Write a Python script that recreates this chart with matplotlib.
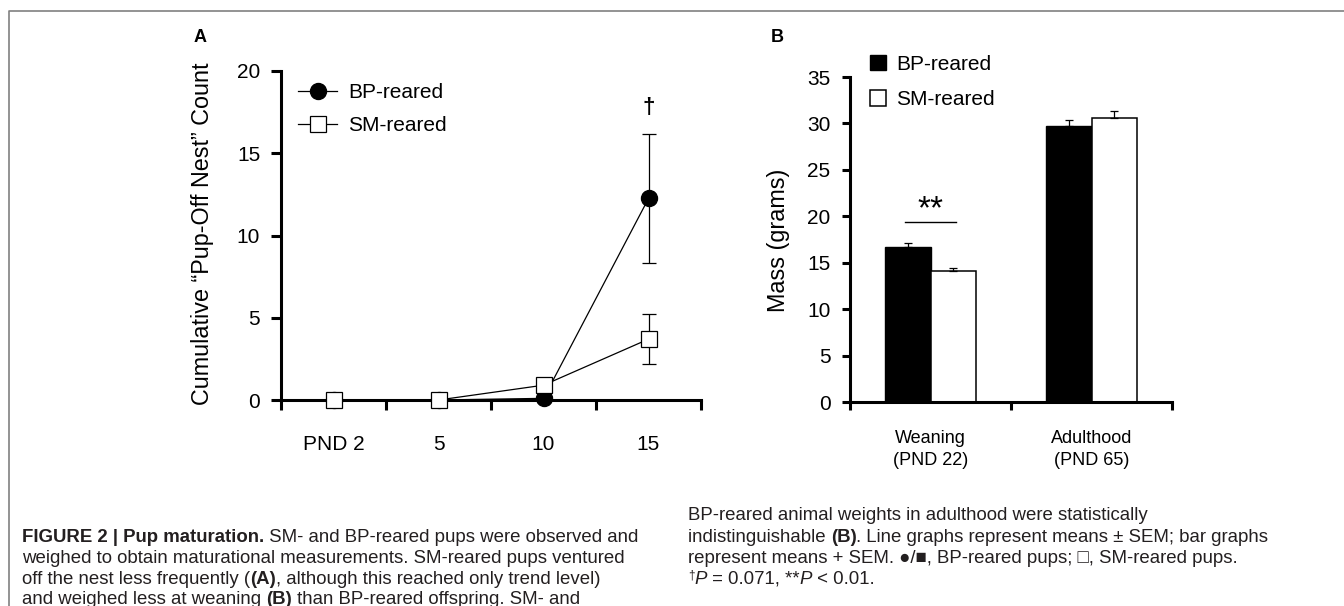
import numpy as np
import matplotlib
matplotlib.use("Agg")
import matplotlib.pyplot as plt
from matplotlib.lines import Line2D

plt.rcParams["font.family"] = ["Liberation Sans", "DejaVu Sans"]

# ── Data ──────────────────────────────────────────────────────────────────────
days     = ["PND 2", "5", "10", "15"]
bp_mean  = [0.0, 0.0, 0.1, 12.25]
bp_sem   = [0.0, 0.0, 0.1, 3.9]
sm_mean  = [0.0, 0.0, 0.9, 3.7]
sm_sem   = [0.0, 0.0, 0.3, 1.5]

ages     = ["Weaning\n(PND 22)", "Adulthood\n(PND 65)"]
mass_bp  = [16.7, 29.7]
sem_bp   = [0.4, 0.7]
mass_sm  = [14.1, 30.6]
sem_sm   = [0.35, 0.7]

W, H = 1344, 606
SPINE = 2.2
fig = plt.figure(figsize=(W / 100, H / 100), dpi=100)
fig.patch.set_facecolor("white")


def style_axes(ax):
    for s in ("top", "right"):
        ax.spines[s].set_visible(False)
    for s in ("left", "bottom"):
        ax.spines[s].set_linewidth(SPINE)
    ax.tick_params(axis="y", direction="out", length=7, width=SPINE, labelsize=15, pad=8)


# ── Panel A: line graph ──────────────────────────────────────────────────────
axA = fig.add_axes([281 / W, 1 - 400 / H, 420 / W, 329 / H])
x = np.arange(len(days))
axA.errorbar(x, bp_mean, yerr=bp_sem, fmt="none", ecolor="black",
             elinewidth=0.9, capsize=4.7, capthick=0.9, zorder=3, clip_on=False)
axA.errorbar(x, sm_mean, yerr=sm_sem, fmt="none", ecolor="black",
             elinewidth=0.9, capsize=4.7, capthick=0.9, zorder=3, clip_on=False)
axA.plot(x, bp_mean, "-o", color="black", mfc="black", ms=11.5, lw=0.9,
         label="BP-reared", clip_on=False, zorder=4)
axA.plot(x, sm_mean, "-s", color="black", mfc="white", mec="black", ms=12,
         mew=0.9, lw=0.9, label="SM-reared", clip_on=False, zorder=5)
axA.set_xlim(-0.5, len(days) - 0.5)
axA.set_ylim(0, 20)
axA.set_yticks([0, 5, 10, 15, 20])
axA.set_xticks(np.arange(len(days) + 1) - 0.5)
axA.set_xticklabels([])
axA.set_xticks(x, minor=True)
axA.set_xticklabels(days, minor=True)
style_axes(axA)
axA.tick_params(axis="x", which="major", direction="out", length=7, width=SPINE)
axA.tick_params(axis="x", which="minor", length=0, labelsize=15, pad=25)
axA.text(x[-1], 17.8, "†", ha="center", va="center", fontsize=16, fontweight="bold")
axA.legend(loc="upper left", bbox_to_anchor=(0.04, 0.963), frameon=False,
           fontsize=15, handlelength=1.9, handletextpad=0.5, labelspacing=0.68,
           borderpad=0, borderaxespad=0)
fig.text(203 / W, 1 - 234 / H, "Cumulative \u201cPup-Off Nest\u201d Count",
         rotation=90, ha="center", va="center", fontsize=16.8)
fig.text(200 / W, 1 - 37 / H, "A", fontsize=13, fontweight="bold", ha="center", va="center")

# ── Panel B: bar graph ───────────────────────────────────────────────────────
axB = fig.add_axes([850 / W, 1 - 402 / H, 322 / W, 325 / H])
xb = np.arange(len(ages))
w = 0.285
ekw = dict(elinewidth=0.9, capthick=0.9)
axB.bar(xb - w / 2, mass_bp, w, color="black", edgecolor="black", lw=1,
        yerr=[[0] * len(xb), sem_bp], capsize=3.2, error_kw=ekw, label="BP-reared")
axB.bar(xb + w / 2, mass_sm, w, color="white", edgecolor="black", lw=1.1,
        yerr=[[0] * len(xb), sem_sm], capsize=3.2, error_kw=ekw, label="SM-reared")
axB.set_xlim(-0.5, len(ages) - 0.5)
axB.set_ylim(0, 35)
axB.set_yticks(np.arange(0, 36, 5))
axB.set_xticks(np.arange(len(ages) + 1) - 0.5)
axB.set_xticklabels([])
axB.set_xticks(xb, minor=True)
axB.set_xticklabels(ages, minor=True)
style_axes(axB)
axB.tick_params(axis="y", length=6)
axB.tick_params(axis="x", which="major", direction="out", length=6, width=SPINE)
axB.tick_params(axis="x", which="minor", length=0, labelsize=13, pad=20)
for lbl in axB.get_xticklabels(minor=True):
    lbl.set_linespacing(1.42)
axB.plot([xb[0] - 0.16, xb[0] + 0.16], [19.4, 19.4], color="black", lw=1)
axB.text(xb[0], 20.7, "**", ha="center", va="center", fontsize=24)
axB.legend(loc="upper left", bbox_to_anchor=(0.062, 1.068), frameon=False,
           fontsize=15, handlelength=0.75, handleheight=0.75, handletextpad=0.5,
           labelspacing=0.78, borderpad=0, borderaxespad=0)
fig.text(779 / W, 1 - 240 / H, "Mass (grams)", rotation=90, ha="center",
         va="center", fontsize=16.8)
fig.text(777 / W, 1 - 37 / H, "B", fontsize=13, fontweight="bold", ha="center", va="center")

# ── Frame ────────────────────────────────────────────────────────────────────
fig.add_artist(Line2D([9 / W, 9 / W, 1], [0, 1 - 11 / H, 1 - 11 / H],
                      color="#808080", lw=1.2, transform=fig.transFigure))

# ── Caption ──────────────────────────────────────────────────────────────────
renderer = fig.canvas.get_renderer()
CAP = dict(fontsize=13.4, color="#231f20", va="baseline")


def caption_line(x_px, y_px, parts):
    xf = x_px / W
    for part in parts:
        s, kw = (part, {}) if isinstance(part, str) else part
        opts = dict(CAP)
        opts.update(kw)
        dy = opts.pop("dy", 0)
        t = fig.text(xf, 1 - (y_px - dy) / H, s, **opts)
        xf += t.get_window_extent(renderer).width / W


B = {"fontweight": "bold"}
caption_line(22, 542, [("FIGURE 2 | Pup maturation.", B),
                       " SM- and BP-reared pups were observed and"])
caption_line(22, 563, ["weighed to obtain maturational measurements. SM-reared pups ventured"])
caption_line(22, 584, ["off the nest less frequently (", ("(A)", B),
                       ", although this reached only trend level)"])
caption_line(22, 604, ["and weighed less at weaning ", ("(B)", B),
                       " than BP-reared offspring. SM- and"])

caption_line(688, 520, ["BP-reared animal weights in adulthood were statistically"])
caption_line(688, 542, ["indistinguishable ", ("(B)", B),
                        ". Line graphs represent means \u00b1 SEM; bar graphs"])
caption_line(688, 563, ["represent means + SEM. \u25cf/\u25a0, BP-reared pups; \u25a1, SM-reared pups."])
caption_line(688, 584, [("\u2020", {"fontsize": 8.5, "dy": 5}), ("P", {"fontstyle": "italic"}),
                        " = 0.071, **", ("P", {"fontstyle": "italic"}), " < 0.01."])

fig.savefig("out.png", dpi=100, facecolor="white")
